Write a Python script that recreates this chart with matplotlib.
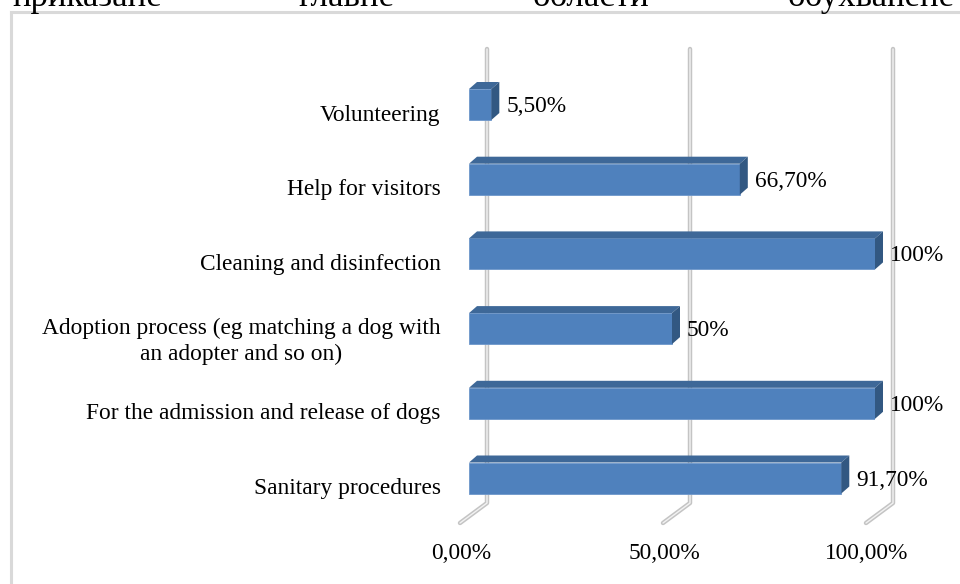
import matplotlib
matplotlib.use("Agg")
import matplotlib.pyplot as plt
from matplotlib.patches import Polygon
from matplotlib.lines import Line2D
from matplotlib.transforms import ScaledTranslation

plt.rcParams['font.family'] = ['Liberation Serif', 'DejaVu Serif']

# data (bottom to top)
categories = ["Sanitary procedures",
              "For the admission and release of dogs",
              "Adoption process (eg matching a dog with\nan adopter and so on)",
              "Cleaning and disinfection",
              "Help for visitors",
              "Volunteering"]
values = [91.7, 100, 50, 100, 66.7, 5.5]
value_labels = ["91,70%", "100%", "50%", "100%", "66,70%", "5,50%"]
ticks = [0, 50, 100]
tick_labels = ["0,00%", "50,00%", "100,00%"]
heading_words = ["приказане", "главне", "области", "обухваћене"]
heading_x = [12, 298, 533, 788]

W, H = 960, 584
fs = 16.8
fig = plt.figure(figsize=(W / 100, H / 100), dpi=100)

# axes: x 0..100 -> px 469..875, y px 40..540
ax = fig.add_axes([469 / W, 1 - 540 / H, 406 / W, 500 / H])
pxx = 406 / 100.0        # px per x unit
pxy = 74.7               # px per category
ax.set_xlim(0, 100)
ax.set_ylim((478 - 540) / pxy, (478 - 40) / pxy)
for s in ax.spines.values():
    s.set_visible(False)

front = '#4f81bd'
top_c = '#3e6898'
side_c = '#325882'
bh = 31 / pxy
ddx = 8 / pxx
ddy = 7 / pxy

# back wall gridlines + floor
gx = 18 / pxx
gy0 = (478 - 503) / pxy
gytop = (478 - 49) / pxy
fx = -9 / pxx
fy = (478 - 523) / pxy
for t in ticks:
    xs = [t + gx, t + gx, t + fx]
    ys = [gytop, gy0, fy]
    ax.plot(xs, ys, color='#c4c4c4', lw=3.2, solid_capstyle='round',
            solid_joinstyle='round', clip_on=False, zorder=1)
    ax.plot(xs, ys, color='#f2f2f2', lw=1.0, solid_capstyle='round',
            clip_on=False, zorder=1.1)

ypos = list(range(len(categories)))
ax.barh(ypos, values, height=bh, color=front, edgecolor='#6d97cb',
        linewidth=0.6, zorder=3)
for y, v, lab in zip(ypos, values, value_labels):
    t = y + bh / 2
    b = y - bh / 2
    ax.add_patch(Polygon([(0, t), (v, t), (v + ddx, t + ddy), (ddx, t + ddy)],
                         closed=True, facecolor=top_c, edgecolor='none',
                         zorder=3, clip_on=False))
    ax.add_patch(Polygon([(v, b), (v, t), (v + ddx, t + ddy), (v + ddx, b + ddy)],
                         closed=True, facecolor=side_c, edgecolor='none',
                         zorder=3, clip_on=False))
    ax.text(v + 15 / pxx, y - 2 / pxy, lab, ha='left', va='center',
            fontsize=fs, color='black', zorder=4, clip_on=False)

ax.set_xticks(ticks, tick_labels)
ax.set_yticks(ypos, categories)
ax.tick_params(axis='both', length=0, labelsize=fs, colors='black')
ax.tick_params(axis='x', pad=2)
ax.tick_params(axis='y', pad=20.5)
for lbl in ax.get_xticklabels():
    lbl.set_transform(lbl.get_transform() + ScaledTranslation(-8 / 100, 0, fig.dpi_scale_trans))
for lbl in ax.get_yticklabels():
    lbl.set_multialignment('center')
    lbl.set_linespacing(1.3)
    lbl.set_transform(lbl.get_transform() + ScaledTranslation(0, -8 / 100, fig.dpi_scale_trans))

# chart border (right and bottom are off the picture)
fig.add_artist(Line2D([11 / W, 11 / W], [0, 1 - 12 / H], color='#d9d9d9', lw=2.2))
fig.add_artist(Line2D([11 / W, 1], [1 - 12 / H, 1 - 12 / H], color='#d9d9d9', lw=2.2))

# surrounding document text, cut at the top
for w, x in zip(heading_words, heading_x):
    fig.text(x / W, 1 - 6 / H, w, ha='left', va='baseline', fontsize=25)

fig.savefig("out.png", dpi=100)
